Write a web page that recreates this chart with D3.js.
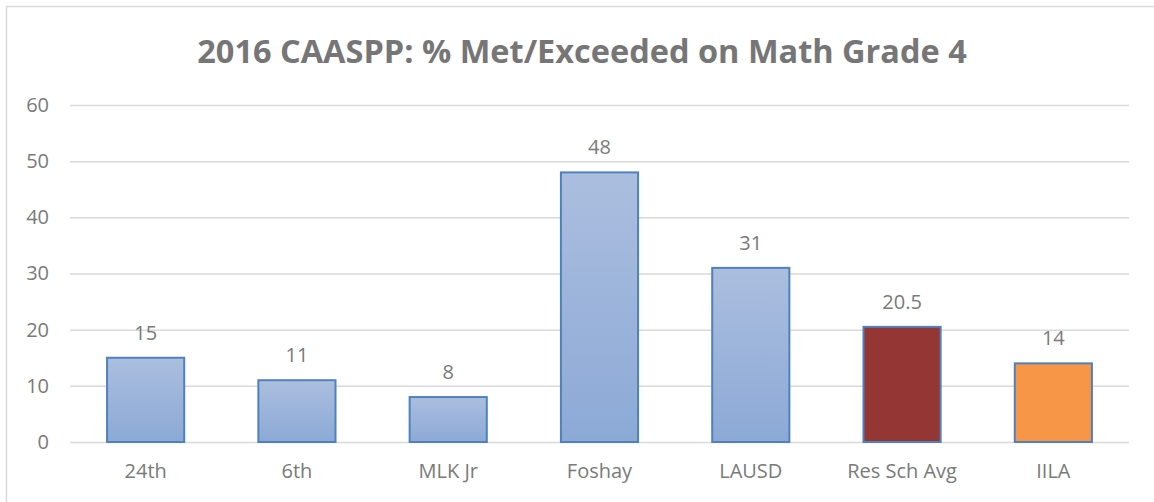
<!DOCTYPE html>
<html>
<head>
<meta charset="utf-8">
<script src="https://d3js.org/d3.v7.min.js"></script>
<style>
  body { margin: 0; background: #fff; }
  svg { display: block; font-family: "Open Sans", sans-serif; }
</style>
</head>
<body>
<svg width="1154" height="502"></svg>
<script>
const categories = ["24th", "6th", "MLK Jr", "Foshay", "LAUSD", "Res Sch Avg", "IILA"];
const values = [15, 11, 8, 48, 31, 20.5, 14];
const fills = ["grad", "grad", "grad", "grad", "grad", "#943634", "#f79646"];
const yTicks = [0, 10, 20, 30, 40, 50, 60];
const title = "2016 CAASPP: % Met/Exceeded on Math Grade 4";

const svg = d3.select("svg");
const width = 1154, height = 502;
const plotLeft = 70, plotRight = 1129, plotTop = 105, plotBottom = 442;

const defs = svg.append("defs");
const g = defs.append("linearGradient").attr("id", "grad")
    .attr("x1", 0).attr("y1", 0).attr("x2", 0).attr("y2", 1);
g.append("stop").attr("offset", "0%").attr("stop-color", "#abbedf");
g.append("stop").attr("offset", "100%").attr("stop-color", "#8ca9d6");

// chart border
svg.append("rect")
    .attr("x", 6.5).attr("y", 6.5)
    .attr("width", 1170).attr("height", 520)
    .attr("fill", "none").attr("stroke", "#d9d9d9").attr("stroke-width", 1.5);

const x = d3.scaleBand().domain(categories).range([plotLeft, plotRight]).paddingInner(0.49).paddingOuter(0.245);
const y = d3.scaleLinear().domain([0, 60]).range([plotBottom, plotTop]);

svg.append("text")
    .attr("x", 582).attr("y", 63)
    .attr("text-anchor", "middle")
    .attr("font-size", 32.5).attr("font-weight", "bold")
    .attr("fill", "#767676")
    .text(title);

const yAxis = svg.append("g")
    .attr("transform", `translate(${plotLeft},0)`)
    .call(d3.axisLeft(y).tickValues(yTicks).tickSize(-(plotRight - plotLeft)).tickPadding(21));
yAxis.select(".domain").remove();
yAxis.selectAll(".tick line").attr("stroke", "#d9d9d9").attr("stroke-width", 1.5);
yAxis.selectAll(".tick text").attr("font-size", 20).attr("fill", "#7a7a7a")
    .attr("font-family", "Open Sans, sans-serif");

svg.selectAll("rect.bar")
    .data(values)
    .enter().append("rect")
    .attr("class", "bar")
    .attr("x", (d, i) => x(categories[i]))
    .attr("y", d => y(d))
    .attr("width", x.bandwidth())
    .attr("height", d => y(0) - y(d))
    .attr("fill", (d, i) => fills[i] === "grad" ? "url(#grad)" : fills[i])
    .attr("stroke", "#4f81bd")
    .attr("stroke-width", 2);

svg.selectAll("text.val")
    .data(values)
    .enter().append("text")
    .attr("class", "val")
    .attr("x", (d, i) => x(categories[i]) + x.bandwidth() / 2)
    .attr("y", d => y(d) - 18)
    .attr("text-anchor", "middle")
    .attr("font-size", 20).attr("fill", "#7a7a7a")
    .text(d => d);

const xAxis = svg.append("g")
    .attr("transform", `translate(0,${plotBottom})`)
    .call(d3.axisBottom(x).tickSize(0).tickPadding(22));
xAxis.select(".domain").remove();
xAxis.selectAll(".tick text").attr("font-size", 20).attr("fill", "#7a7a7a")
    .attr("font-family", "Open Sans, sans-serif");
</script>
</body>
</html>
